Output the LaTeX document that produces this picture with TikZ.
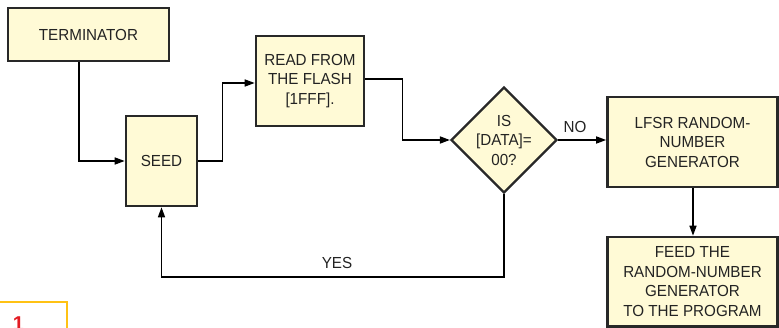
\documentclass[tikz,border=0pt]{standalone}
\usepackage{fontspec}
\setmainfont{Liberation Sans}
\newfontfamily\boxfont[FakeStretch=0.95]{Liberation Sans}
\usetikzlibrary{shapes.geometric,arrows.meta,calc}
\definecolor{boxfill}{RGB}{255,250,214}
\definecolor{boxline}{RGB}{40,40,40}
\definecolor{txt}{RGB}{35,35,35}
\definecolor{figyellow}{RGB}{255,194,20}
\definecolor{figred}{RGB}{227,27,35}
\tikzset{
  x=1pt,y=1pt,
  stepbox/.style={draw=boxline, line width=2.6pt, fill=boxfill, text=txt, align=center,
    inner sep=0pt, font=\boxfont\fontsize{16}{19.5}\selectfont},
  decision/.style={diamond, aspect=1, draw=boxline, line width=2.2pt, fill=boxfill, text=txt,
    align=center, inner sep=0pt, font=\boxfont\fontsize{16}{19.5}\selectfont},
  flow/.style={draw=black, line width=1.5pt, -{Triangle[length=10pt,width=7pt]}},
  lbl/.style={text=txt, inner sep=0pt, font=\boxfont\fontsize{16}{18}\selectfont}
}
\begin{document}
\begin{tikzpicture}
\useasboundingbox (0,0) rectangle (779,-328);
\clip (0,0) rectangle (779,-328);
\node[stepbox, minimum width=161pt, minimum height=53pt] (term) at (88.5,-34.5) {TERMINATOR};
\node[stepbox, minimum width=71pt, minimum height=90pt] (seed) at (161.5,-161) {SEED};
\node[stepbox, minimum width=108pt, minimum height=90pt] (read) at (310,-81) {READ FROM\\THE FLASH\\{[1FFF].}};
\node[decision, minimum width=104pt, minimum height=102pt] (dia) at (504,-140) {IS\\{[DATA]=}\\00?};
\node[stepbox, minimum width=170pt, minimum height=90pt] (lfsr) at (692.5,-142) {LFSR RANDOM-\\NUMBER\\GENERATOR};
\node[stepbox, minimum width=170pt, minimum height=89.5pt] (feed) at (692.5,-281.75) {FEED THE\\RANDOM-NUMBER\\GENERATOR\\TO THE PROGRAM};
\coordinate (tdrop) at (79,0);
\coordinate (fdrop) at (693,0);
\draw[flow] (term.south -| tdrop) |- (seed.west);
\draw[flow] (seed.east) -- ++(24,0) |- ([yshift=-2pt]read.west);
\draw[flow] ([yshift=2pt]read.east) -- ++(37,0) |- (dia.west);
\draw[flow] (dia.east) -- (dia.east -| lfsr.west);
\draw[flow] (lfsr.south -| fdrop) -- (feed.north -| fdrop);
\draw[flow] (dia.south) -- ++(0,-83) -| (seed.south);
\node[lbl] (no) at (575,-127) {NO};
\node[lbl] (yes) at (337,-263) {YES};
% cropped figure label
\draw[figyellow, line width=2pt] (-2,-302) -- (67,-302) -- (67,-330);
\node[text=figred, inner sep=0pt, anchor=base, font=\fontsize{20}{20}\bfseries] (fignum) at (18.5,-330.5) {1};
\end{tikzpicture}
\end{document}
